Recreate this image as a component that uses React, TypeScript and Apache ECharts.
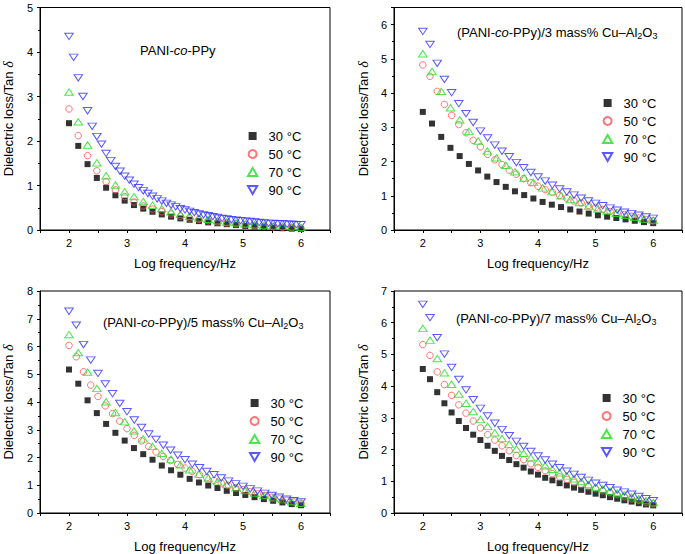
import React, { useEffect, useRef } from 'react';
import * as echarts from 'echarts';

const X16 = [2.00,2.16,2.32,2.48,2.64,2.80,2.96,3.12,3.28,3.44,3.60,3.76,3.92,4.08,4.24,4.40,4.56,4.72,4.88,5.04,5.20,5.36,5.52,5.68,5.84,6.00];
const X08 = [2.00,2.08,2.16,2.24,2.32,2.40,2.48,2.56,2.64,2.72,2.80,2.88,2.96,3.04,3.12,3.20,3.28,3.36,3.44,3.52,3.60,3.68,3.76,3.84,3.92,4.00,4.08,4.16,4.24,4.32,4.40,4.48,4.56,4.64,4.72,4.80,4.88,4.96,5.04,5.12,5.20,5.28,5.36,5.44,5.52,5.60,5.68,5.76,5.84,5.92,6.00];
const X125 = [2,2.125,2.25,2.375,2.5,2.625,2.75,2.875,3,3.125,3.25,3.375,3.5,3.625,3.75,3.875,4,4.125,4.25,4.375,4.5,4.625,4.75,4.875,5,5.125,5.25,5.375,5.5,5.625,5.75,5.875,6];

const NAMES = ['30 °C', '50 °C', '70 °C', '90 °C'];

// Panel 1: PANI-co-PPy
const P1_30 = [2.40,1.89,1.48,1.17,0.95,0.78,0.66,0.56,0.48,0.41,0.35,0.30,0.26,0.23,0.20,0.17,0.15,0.13,0.11,0.09,0.08,0.06,0.05,0.04,0.03,0.02];
const P1_50 = [2.72,2.12,1.67,1.33,1.09,0.90,0.75,0.63,0.54,0.47,0.41,0.36,0.31,0.27,0.24,0.21,0.18,0.16,0.14,0.12,0.10,0.08,0.07,0.06,0.05,0.04];
const P1_70 = [3.10,2.43,1.91,1.51,1.22,1.01,0.86,0.75,0.64,0.56,0.48,0.41,0.35,0.31,0.27,0.24,0.21,0.18,0.16,0.14,0.12,0.10,0.09,0.08,0.07,0.06];
const P1_90 = [4.35,3.88,3.42,3.00,2.68,2.33,2.10,1.93,1.72,1.56,1.43,1.32,1.21,1.12,1.03,0.95,0.88,0.82,0.76,0.70,0.65,0.60,0.56,0.52,0.48,0.45,0.42,0.39,0.36,0.34,0.32,0.30,0.28,0.26,0.25,0.23,0.22,0.21,0.20,0.19,0.18,0.17,0.16,0.15,0.15,0.14,0.14,0.13,0.13,0.12,0.12];

// Panel 2: 3 mass%
const P2_30 = [3.45,3.11,2.72,2.40,2.16,1.93,1.74,1.56,1.40,1.26,1.13,1.02,0.92,0.82,0.74,0.67,0.60,0.54,0.48,0.43,0.39,0.35,0.31,0.27,0.23,0.20];
const P2_50 = [4.82,4.49,4.05,3.67,3.35,3.08,2.84,2.62,2.43,2.21,2.05,1.91,1.75,1.63,1.50,1.38,1.28,1.18,1.10,1.01,0.93,0.85,0.79,0.72,0.66,0.60,0.54,0.50,0.45,0.40,0.35,0.31,0.27];
const P2_70 = [5.15,4.63,4.05,3.57,3.22,2.88,2.60,2.31,2.11,1.89,1.70,1.52,1.39,1.23,1.12,1.00,0.89,0.80,0.70,0.62,0.55,0.49,0.43,0.37,0.32,0.29];
const P2_90 = [5.80,5.42,4.87,4.40,4.01,3.69,3.40,3.14,2.89,2.69,2.48,2.30,2.14,1.97,1.82,1.68,1.55,1.43,1.31,1.20,1.11,1.02,0.93,0.85,0.78,0.71,0.64,0.58,0.52,0.48,0.43,0.38,0.34];

// Panel 3: 5 mass%
const P3_30 = [5.17,4.66,4.06,3.60,3.21,2.89,2.61,2.34,2.12,1.92,1.71,1.54,1.38,1.23,1.10,0.99,0.90,0.80,0.72,0.65,0.57,0.50,0.44,0.38,0.32,0.28];
const P3_50 = [6.04,5.63,5.09,4.61,4.20,3.86,3.58,3.31,3.04,2.80,2.60,2.40,2.20,2.04,1.89,1.75,1.62,1.50,1.38,1.27,1.17,1.08,0.99,0.91,0.84,0.77,0.69,0.63,0.57,0.51,0.46,0.40,0.35];
const P3_70 = [6.43,5.78,5.08,4.49,4.01,3.62,3.29,2.96,2.67,2.40,2.15,1.94,1.74,1.56,1.40,1.26,1.13,1.02,0.91,0.81,0.72,0.63,0.55,0.48,0.41,0.35];
const P3_90 = [7.27,6.77,6.07,5.51,5.03,4.65,4.30,3.95,3.65,3.35,3.08,2.85,2.65,2.44,2.26,2.08,1.92,1.76,1.63,1.50,1.38,1.26,1.15,1.05,0.96,0.87,0.79,0.71,0.63,0.57,0.50,0.44,0.40];

// Panel 4: 7 mass%
const P4_30 = [4.54,4.22,3.81,3.46,3.17,2.90,2.68,2.47,2.30,2.12,1.96,1.80,1.67,1.54,1.43,1.31,1.21,1.11,1.03,0.94,0.87,0.80,0.73,0.67,0.61,0.56,0.50,0.45,0.40,0.36,0.31,0.27,0.24];
const P4_50 = [5.31,4.97,4.45,4.05,3.71,3.41,3.15,2.90,2.68,2.47,2.30,2.12,1.96,1.81,1.68,1.55,1.44,1.33,1.24,1.14,1.06,0.97,0.90,0.83,0.77,0.70,0.64,0.58,0.51,0.45,0.40,0.34,0.29];
const P4_70 = [5.82,5.45,4.87,4.42,4.06,3.75,3.46,3.20,2.95,2.73,2.53,2.35,2.17,2.02,1.88,1.74,1.61,1.49,1.38,1.27,1.17,1.08,0.99,0.90,0.82,0.76,0.69,0.63,0.57,0.51,0.45,0.39,0.33];
const P4_90 = [6.58,6.16,5.53,5.01,4.59,4.21,3.88,3.57,3.30,3.06,2.83,2.63,2.44,2.26,2.10,1.94,1.80,1.67,1.54,1.43,1.32,1.22,1.12,1.03,0.94,0.87,0.80,0.72,0.66,0.59,0.52,0.45,0.39];

const PANELS = [
  { xs: [X16, X16, X16, X08], ys: [P1_30, P1_50, P1_70, P1_90], ymax: 5 },
  { xs: [X16, X125, X16, X125], ys: [P2_30, P2_50, P2_70, P2_90], ymax: 6.5 },
  { xs: [X16, X125, X16, X125], ys: [P3_30, P3_50, P3_70, P3_90], ymax: 8 },
  { xs: [X125, X125, X125, X125], ys: [P4_30, P4_50, P4_70, P4_90], ymax: 7 },
];

const FONT = '"Liberation Sans", Arial, Helvetica, sans-serif';

const GRIDS = [
  { left: 40, top: 7.5, width: 290, height: 222.5 },
  { left: 394, top: 7.5, width: 289, height: 222.5 },
  { left: 40, top: 291, width: 290, height: 222.5 },
  { left: 394, top: 291, width: 289, height: 222.5 },
];
const LEGENDS = [
  { left: 242, top: 122 },
  { left: 597, top: 89 },
  { left: 244, top: 389 },
  { left: 596, top: 384 },
];
const YNAMEGAP = [25, 24, 25, 24];

const MARKERS = [
  { symbol: 'rect', symbolSize: 6, itemStyle: { color: '#000000', borderWidth: 0 } },
  { symbol: 'circle', symbolSize: 6.5, itemStyle: { color: 'rgba(255,255,255,0)', borderColor: '#ff5252', borderWidth: 1 } },
  { symbol: 'path://M5,0L10,8.66L0,8.66Z', symbolSize: [8.5, 7.4], itemStyle: { color: 'rgba(255,255,255,0)', borderColor: '#1ee01e', borderWidth: 1 } },
  { symbol: 'path://M0,0L10,0L5,8.66Z', symbolSize: [8.5, 7.4], itemStyle: { color: 'rgba(255,255,255,0)', borderColor: '#3030ff', borderWidth: 1 } },
];
const LEGEND_ICONS = ['path://M0,0L10,0L10,10L0,10Z', 'circle', 'path://M5,0L10,8.66L0,8.66Z', 'path://M0,0L10,0L5,8.66Z'];

const richBase = { fontSize: 13, fontFamily: FONT, color: '#000', lineHeight: 16 };
const TITLE_RICH = {
  a: { ...richBase },
  i: { ...richBase, fontStyle: 'italic' },
  s: { fontSize: 9, fontFamily: FONT, color: '#000', lineHeight: 9, verticalAlign: 'bottom' },
};

const TITLES = [
  { x: 140, y: 50, text: '{a|PANI-}{i|co}{a|-PPy}' },
  { x: 457, y: 32, text: '{a|(PANI-}{i|co}{a|-PPy)/3 mass% Cu–Al}{s|2}{a|O}{s|3}' },
  { x: 103, y: 322, text: '{a|(PANI-}{i|co}{a|-PPy)/5 mass% Cu–Al}{s|2}{a|O}{s|3}' },
  { x: 456, y: 318, text: '{a|(PANI-}{i|co}{a|-PPy)/7 mass% Cu–Al}{s|2}{a|O}{s|3}' },
];

export default function App() {
  const ref = useRef<HTMLDivElement>(null);
  useEffect(() => {
    if (!ref.current) return;
    const chart = echarts.init(ref.current, null, { renderer: 'svg' });
    const grid = GRIDS.map((g) => ({
      ...g,
      show: true,
      borderColor: '#000',
      borderWidth: 1,
      backgroundColor: 'transparent',
    }));
    const xAxis = GRIDS.map((_, i) => ({
      type: 'value',
      gridIndex: i,
      min: 1.5,
      max: 6.5,
      interval: 0.5,
      name: 'Log frequency/Hz',
      nameLocation: 'middle',
      nameGap: 27,
      nameTextStyle: { fontSize: 13, fontFamily: FONT, color: '#000' },
      axisLine: { show: true, onZero: false, lineStyle: { color: '#000', width: 1 } },
      axisTick: { show: true, length: 3, lineStyle: { color: '#000' } },
      axisLabel: {
        fontSize: 11,
        fontFamily: FONT,
        color: '#000',
        margin: 7,
        formatter: (v: number) => (Number.isInteger(v) ? String(v) : ''),
      },
      splitLine: { show: false },
    }));
    const yAxis = PANELS.map((p, i) => ({
      type: 'value',
      gridIndex: i,
      min: 0,
      max: p.ymax,
      interval: 1,
      name: 'Dielectric loss/Tan {d|δ}',
      nameLocation: 'middle',
      nameGap: YNAMEGAP[i],
      nameTextStyle: {
        fontSize: 13,
        fontFamily: FONT,
        color: '#000',
        rich: { d: { fontSize: 14, fontFamily: '"Liberation Serif", "DejaVu Serif", serif', fontStyle: 'italic', color: '#000' } },
      },
      axisLine: { show: true, onZero: false, lineStyle: { color: '#000', width: 1 } },
      axisTick: { show: true, length: 3, lineStyle: { color: '#000' } },
      minorTick: { show: true, splitNumber: 2, length: 2, lineStyle: { color: '#000' } },
      axisLabel: {
        fontSize: 11,
        fontFamily: FONT,
        color: '#000',
        margin: 7,
        formatter: (v: number) => (Number.isInteger(v) ? String(v) : ''),
      },
      splitLine: { show: false },
      minorSplitLine: { show: false },
    }));
    const series: any[] = [];
    PANELS.forEach((p, pi) => {
      p.ys.forEach((ys, si) => {
        const xs = p.xs[si];
        series.push({
          type: 'scatter',
          name: NAMES[si],
          xAxisIndex: pi,
          yAxisIndex: pi,
          ...MARKERS[si],
          symbolKeepAspect: true,
          data: ys.map((y, k) => [xs[k], y]),
          silent: true,
        });
      });
    });
    const legend = LEGENDS.map((l) => ({
      ...l,
      orient: 'vertical',
      itemWidth: 22,
      itemHeight: 8,
      itemGap: 0,
      selectedMode: false,
      symbolKeepAspect: true,
      data: NAMES.map((n, k) => ({ name: n, icon: LEGEND_ICONS[k] })),
      textStyle: { fontSize: 13, fontFamily: FONT, color: '#000', lineHeight: 18 },
    }));
    const graphic = TITLES.map((t) => ({
      type: 'text',
      x: t.x,
      y: t.y,
      style: {
        text: t.text,
        rich: TITLE_RICH,
        fontSize: 13,
        fontFamily: FONT,
        fill: '#000',
        verticalAlign: 'middle',
        align: 'left',
      },
    }));
    chart.setOption({
      animation: false,
      backgroundColor: '#ffffff',
      grid,
      xAxis,
      yAxis,
      legend,
      series,
      graphic,
    });
    return () => chart.dispose();
  }, []);
  return (
    <div
      ref={ref}
      style={{ position: 'fixed', left: 0, top: 0, width: 685, height: 554, background: '#fff' }}
    />
  );
}
